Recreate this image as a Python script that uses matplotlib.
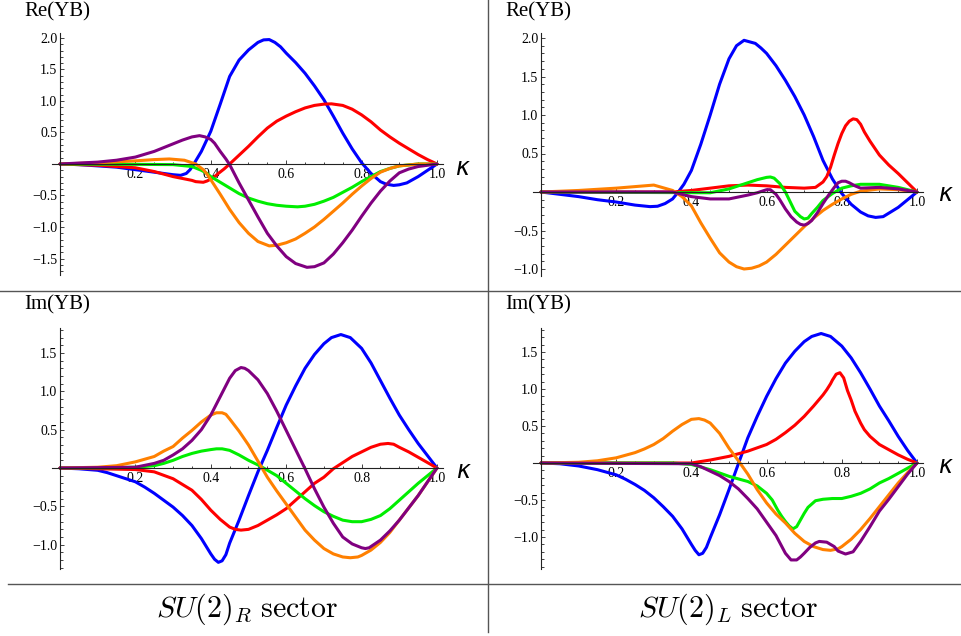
import numpy as np
import matplotlib
matplotlib.use("Agg")
import matplotlib.pyplot as plt
from matplotlib.lines import Line2D

plt.rcParams['font.family'] = ['Liberation Serif', 'DejaVu Serif']
plt.rcParams['mathtext.fontset'] = 'cm'

W, H = 962, 636

# ---- data: (kappa, value) pairs ----
# Re(YB), SU(2)_R sector
reR_blue = [(0, 0), (0.05, -0.01), (0.1, -0.03), (0.15, -0.05), (0.2, -0.09), (0.25, -0.13),
            (0.3, -0.17), (0.32, -0.18), (0.335, -0.15), (0.345, -0.09), (0.355, 0.0), (0.375, 0.2),
            (0.4, 0.52), (0.425, 0.95), (0.45, 1.39), (0.475, 1.65), (0.5, 1.81), (0.525, 1.93),
            (0.54, 1.97), (0.555, 1.975), (0.57, 1.93), (0.585, 1.86), (0.6, 1.76), (0.625, 1.61),
            (0.65, 1.44), (0.675, 1.24), (0.7, 1.02), (0.725, 0.76), (0.75, 0.49), (0.775, 0.24),
            (0.8, 0.02), (0.825, -0.15), (0.85, -0.28), (0.865, -0.32), (0.885, -0.34), (0.9, -0.33),
            (0.92, -0.3), (0.95, -0.2), (0.975, -0.1), (1.0, 0)]
reR_red = [(0, 0), (0.1, -0.02), (0.2, -0.06), (0.25, -0.12), (0.3, -0.2), (0.325, -0.23),
           (0.35, -0.26), (0.36, -0.28), (0.38, -0.29), (0.39, -0.27), (0.4, -0.24), (0.41, -0.2),
           (0.42, -0.15), (0.435, -0.08), (0.45, 0.0), (0.475, 0.14), (0.5, 0.28), (0.525, 0.43),
           (0.55, 0.57), (0.575, 0.68), (0.6, 0.76), (0.625, 0.83), (0.65, 0.89), (0.675, 0.93),
           (0.7, 0.95), (0.72, 0.955), (0.75, 0.93), (0.775, 0.87), (0.8, 0.78), (0.825, 0.67),
           (0.85, 0.54), (0.875, 0.43), (0.9, 0.33), (0.925, 0.24), (0.95, 0.15), (0.975, 0.07), (1.0, 0)]
reR_green = [(0, 0), (0.2, -0.005), (0.3, -0.01), (0.35, -0.04), (0.375, -0.1), (0.39, -0.15),
             (0.4, -0.2), (0.425, -0.29), (0.45, -0.38), (0.475, -0.47), (0.5, -0.54), (0.525, -0.59),
             (0.55, -0.63), (0.575, -0.655), (0.6, -0.67), (0.63, -0.68), (0.65, -0.67), (0.675, -0.64),
             (0.7, -0.59), (0.725, -0.53), (0.75, -0.45), (0.775, -0.37), (0.8, -0.28), (0.825, -0.2),
             (0.85, -0.12), (0.875, -0.07), (0.9, -0.03), (0.95, 0.0), (1.0, 0)]
reR_orange = [(0, 0), (0.1, 0.02), (0.15, 0.035), (0.2, 0.05), (0.25, 0.07), (0.29, 0.08),
              (0.33, 0.06), (0.36, 0.0), (0.38, -0.09), (0.39, -0.16), (0.4, -0.25), (0.425, -0.48),
              (0.45, -0.72), (0.475, -0.93), (0.5, -1.1), (0.525, -1.23), (0.555, -1.3), (0.575, -1.29),
              (0.6, -1.25), (0.625, -1.19), (0.65, -1.1), (0.675, -1.0), (0.7, -0.88), (0.725, -0.75),
              (0.75, -0.62), (0.775, -0.48), (0.8, -0.35), (0.825, -0.23), (0.85, -0.13), (0.875, -0.07),
              (0.9, -0.03), (0.95, 0.0), (1.0, 0)]
reR_purple = [(0, 0), (0.1, 0.03), (0.15, 0.06), (0.2, 0.11), (0.25, 0.2), (0.275, 0.26),
              (0.3, 0.32), (0.325, 0.38), (0.35, 0.43), (0.37, 0.45), (0.385, 0.43), (0.4, 0.39),
              (0.41, 0.33), (0.425, 0.2), (0.44, 0.08), (0.45, -0.01), (0.475, -0.3), (0.5, -0.57),
              (0.525, -0.84), (0.55, -1.1), (0.575, -1.3), (0.6, -1.47), (0.625, -1.58), (0.655, -1.64),
              (0.675, -1.63), (0.7, -1.57), (0.725, -1.43), (0.75, -1.25), (0.775, -1.05), (0.8, -0.83),
              (0.825, -0.62), (0.85, -0.43), (0.875, -0.27), (0.9, -0.14), (0.925, -0.08), (0.95, -0.04),
              (1.0, 0)]

# Re(YB), SU(2)_L sector
reL_blue = [(0, 0), (0.05, -0.03), (0.1, -0.06), (0.15, -0.1), (0.2, -0.13), (0.25, -0.17),
            (0.29, -0.19), (0.31, -0.185), (0.33, -0.15), (0.35, -0.09), (0.365, 0.0), (0.38, 0.1),
            (0.4, 0.28), (0.425, 0.62), (0.45, 1.0), (0.475, 1.4), (0.5, 1.73), (0.52, 1.9),
            (0.54, 1.97), (0.57, 1.93), (0.585, 1.87), (0.6, 1.8), (0.625, 1.64), (0.65, 1.45),
            (0.675, 1.24), (0.7, 1.0), (0.725, 0.72), (0.75, 0.41), (0.775, 0.17), (0.8, -0.02),
            (0.825, -0.16), (0.85, -0.26), (0.87, -0.31), (0.89, -0.33), (0.91, -0.32), (0.95, -0.2),
            (0.975, -0.1), (1.0, 0)]
reL_red = [(0, 0), (0.35, 0.0), (0.4, 0.02), (0.45, 0.05), (0.5, 0.08), (0.55, 0.09), (0.6, 0.08),
           (0.65, 0.06), (0.7, 0.05), (0.73, 0.06), (0.75, 0.13), (0.76, 0.2), (0.77, 0.32),
           (0.78, 0.48), (0.79, 0.63), (0.8, 0.76), (0.81, 0.86), (0.82, 0.92), (0.83, 0.95),
           (0.84, 0.94), (0.85, 0.88), (0.86, 0.78), (0.875, 0.66), (0.9, 0.48), (0.925, 0.35),
           (0.95, 0.24), (0.975, 0.12), (1.0, 0)]
reL_green = [(0, 0), (0.45, -0.01), (0.5, 0.04), (0.55, 0.12), (0.575, 0.16), (0.6, 0.19),
             (0.61, 0.195), (0.62, 0.18), (0.635, 0.11), (0.65, 0.0), (0.66, -0.1), (0.675, -0.25),
             (0.69, -0.32), (0.7, -0.35), (0.71, -0.34), (0.72, -0.28), (0.735, -0.2), (0.75, -0.11),
             (0.775, -0.02), (0.8, 0.05), (0.825, 0.08), (0.85, 0.1), (0.875, 0.1), (0.9, 0.1),
             (0.95, 0.06), (1.0, 0)]
reL_orange = [(0, 0), (0.1, 0.02), (0.2, 0.05), (0.3, 0.09), (0.35, 0.02), (0.375, -0.06),
              (0.4, -0.18), (0.425, -0.4), (0.45, -0.6), (0.475, -0.79), (0.5, -0.91), (0.52, -0.97),
              (0.54, -1.0), (0.56, -0.99), (0.58, -0.96), (0.6, -0.91), (0.625, -0.81), (0.65, -0.69),
              (0.675, -0.57), (0.7, -0.45), (0.725, -0.34), (0.75, -0.24), (0.775, -0.16), (0.8, -0.09),
              (0.825, -0.03), (0.85, 0.01), (0.9, 0.04), (0.95, 0.03), (1.0, 0)]
reL_purple = [(0, 0), (0.35, 0.0), (0.4, -0.06), (0.45, -0.09), (0.5, -0.09), (0.55, -0.04),
              (0.575, -0.01), (0.6, 0.03), (0.61, 0.03), (0.625, -0.03), (0.635, -0.1), (0.65, -0.22),
              (0.665, -0.32), (0.68, -0.39), (0.69, -0.42), (0.7, -0.43), (0.71, -0.41), (0.72, -0.37),
              (0.735, -0.27), (0.75, -0.15), (0.765, -0.04), (0.78, 0.06), (0.79, 0.12), (0.8, 0.14),
              (0.81, 0.14), (0.82, 0.12), (0.835, 0.08), (0.85, 0.05), (0.9, 0.06), (0.95, 0.04), (1.0, 0)]

# Im(YB), SU(2)_R sector
imR_blue = [(0, 0), (0.05, -0.01), (0.1, -0.03), (0.125, -0.06), (0.15, -0.1), (0.175, -0.14),
            (0.2, -0.18), (0.225, -0.25), (0.25, -0.33), (0.275, -0.42), (0.3, -0.51), (0.325, -0.62),
            (0.35, -0.75), (0.375, -0.92), (0.4, -1.12), (0.41, -1.19), (0.42, -1.23), (0.43, -1.21),
            (0.44, -1.13), (0.45, -0.98), (0.475, -0.68), (0.5, -0.36), (0.525, -0.05), (0.55, 0.23),
            (0.575, 0.53), (0.6, 0.82), (0.625, 1.07), (0.65, 1.3), (0.675, 1.48), (0.7, 1.62),
            (0.72, 1.7), (0.745, 1.74), (0.77, 1.7), (0.8, 1.56), (0.825, 1.37), (0.85, 1.14),
            (0.875, 0.91), (0.9, 0.69), (0.925, 0.5), (0.95, 0.32), (0.975, 0.16), (1.0, 0)]
imR_red = [(0, 0), (0.2, -0.02), (0.25, -0.05), (0.3, -0.14), (0.35, -0.29), (0.375, -0.41),
           (0.4, -0.55), (0.425, -0.67), (0.45, -0.77), (0.465, -0.8), (0.48, -0.81), (0.5, -0.8),
           (0.525, -0.75), (0.55, -0.68), (0.575, -0.61), (0.6, -0.53), (0.625, -0.42), (0.65, -0.31),
           (0.675, -0.2), (0.7, -0.12), (0.725, -0.01), (0.75, 0.07), (0.775, 0.15), (0.8, 0.21),
           (0.825, 0.27), (0.85, 0.31), (0.87, 0.32), (0.885, 0.31), (0.9, 0.27), (0.925, 0.21),
           (0.95, 0.14), (0.975, 0.07), (1.0, 0)]
imR_green = [(0, 0), (0.15, 0.005), (0.2, 0.01), (0.25, 0.03), (0.275, 0.06), (0.3, 0.1),
             (0.325, 0.15), (0.35, 0.19), (0.375, 0.22), (0.4, 0.24), (0.415, 0.25), (0.43, 0.25),
             (0.45, 0.23), (0.475, 0.17), (0.5, 0.1), (0.525, 0.04), (0.54, 0.0), (0.575, -0.1),
             (0.6, -0.2), (0.625, -0.3), (0.65, -0.4), (0.675, -0.49), (0.7, -0.57), (0.725, -0.63),
             (0.75, -0.68), (0.775, -0.7), (0.8, -0.7), (0.825, -0.67), (0.85, -0.62), (0.875, -0.53),
             (0.9, -0.42), (0.925, -0.31), (0.95, -0.2), (0.975, -0.1), (1.0, 0)]
imR_orange = [(0, 0), (0.1, 0.01), (0.15, 0.03), (0.2, 0.08), (0.25, 0.15), (0.275, 0.22),
              (0.3, 0.28), (0.325, 0.39), (0.35, 0.49), (0.375, 0.6), (0.4, 0.69), (0.415, 0.72),
              (0.43, 0.72), (0.44, 0.7), (0.45, 0.64), (0.475, 0.48), (0.5, 0.3), (0.525, 0.09),
              (0.55, -0.12), (0.575, -0.3), (0.6, -0.47), (0.625, -0.64), (0.65, -0.81), (0.675, -0.94),
              (0.7, -1.05), (0.725, -1.12), (0.75, -1.16), (0.77, -1.17), (0.79, -1.16), (0.8, -1.14),
              (0.825, -1.07), (0.85, -0.97), (0.875, -0.84), (0.9, -0.68), (0.925, -0.52), (0.95, -0.36),
              (0.975, -0.18), (1.0, 0)]
imR_purple = [(0, 0), (0.2, 0.01), (0.25, 0.06), (0.275, 0.1), (0.3, 0.17), (0.325, 0.25),
              (0.35, 0.36), (0.375, 0.5), (0.4, 0.69), (0.425, 0.93), (0.45, 1.17), (0.465, 1.27),
              (0.48, 1.31), (0.49, 1.3), (0.5, 1.27), (0.525, 1.15), (0.55, 0.97), (0.575, 0.74),
              (0.6, 0.49), (0.625, 0.24), (0.65, -0.01), (0.675, -0.27), (0.7, -0.51), (0.725, -0.72),
              (0.75, -0.9), (0.775, -0.99), (0.8, -1.04), (0.81, -1.05), (0.82, -1.04), (0.85, -0.94),
              (0.875, -0.82), (0.9, -0.68), (0.925, -0.52), (0.95, -0.36), (0.975, -0.18), (1.0, 0)]

# Im(YB), SU(2)_L sector
imL_blue = [(0, 0), (0.05, -0.01), (0.1, -0.04), (0.15, -0.09), (0.2, -0.16), (0.225, -0.22),
            (0.25, -0.29), (0.275, -0.37), (0.3, -0.47), (0.325, -0.59), (0.35, -0.72), (0.375, -0.89),
            (0.4, -1.1), (0.41, -1.18), (0.42, -1.24), (0.43, -1.22), (0.44, -1.14), (0.45, -1.01),
            (0.475, -0.7), (0.5, -0.36), (0.525, -0.01), (0.55, 0.34), (0.575, 0.63), (0.6, 0.9),
            (0.625, 1.14), (0.65, 1.35), (0.675, 1.51), (0.7, 1.64), (0.72, 1.71), (0.745, 1.75),
            (0.77, 1.71), (0.8, 1.58), (0.825, 1.42), (0.85, 1.22), (0.875, 1.0), (0.9, 0.77),
            (0.925, 0.57), (0.95, 0.36), (0.975, 0.17), (1.0, 0)]
imL_red = [(0, 0), (0.4, 0.0), (0.45, 0.04), (0.5, 0.09), (0.55, 0.16), (0.6, 0.25), (0.625, 0.32),
           (0.65, 0.41), (0.675, 0.51), (0.7, 0.63), (0.725, 0.77), (0.75, 0.92), (0.76, 0.99),
           (0.77, 1.07), (0.775, 1.12), (0.785, 1.2), (0.795, 1.22), (0.805, 1.15), (0.815, 0.98),
           (0.825, 0.85), (0.835, 0.7), (0.85, 0.54), (0.86, 0.45), (0.875, 0.36), (0.9, 0.25),
           (0.925, 0.18), (0.95, 0.11), (0.975, 0.05), (1.0, 0)]
imL_green = [(0, 0), (0.35, 0.0), (0.4, -0.02), (0.45, -0.09), (0.5, -0.18), (0.55, -0.25),
             (0.575, -0.31), (0.6, -0.41), (0.615, -0.5), (0.63, -0.64), (0.64, -0.72), (0.65, -0.79),
             (0.66, -0.85), (0.67, -0.89), (0.68, -0.86), (0.69, -0.77), (0.7, -0.68), (0.71, -0.6),
             (0.73, -0.51), (0.75, -0.49), (0.775, -0.48), (0.8, -0.48), (0.825, -0.45), (0.85, -0.41),
             (0.875, -0.35), (0.9, -0.27), (0.925, -0.21), (0.95, -0.14), (0.975, -0.07), (1.0, 0)]
imL_orange = [(0, 0), (0.1, 0.01), (0.15, 0.03), (0.2, 0.07), (0.25, 0.14), (0.275, 0.19),
              (0.3, 0.25), (0.325, 0.33), (0.35, 0.43), (0.375, 0.52), (0.4, 0.59), (0.42, 0.6),
              (0.435, 0.58), (0.45, 0.54), (0.475, 0.4), (0.5, 0.2), (0.525, 0.03), (0.55, -0.15),
              (0.575, -0.36), (0.6, -0.54), (0.625, -0.69), (0.65, -0.81), (0.675, -0.95), (0.7, -1.06),
              (0.725, -1.13), (0.75, -1.17), (0.77, -1.18), (0.79, -1.16), (0.8, -1.13), (0.825, -1.03),
              (0.85, -0.9), (0.875, -0.75), (0.9, -0.59), (0.925, -0.43), (0.95, -0.27), (0.975, -0.13),
              (1.0, 0)]
imL_purple = [(0, 0), (0.4, -0.01), (0.425, -0.05), (0.45, -0.11), (0.475, -0.17), (0.5, -0.25),
              (0.525, -0.35), (0.55, -0.48), (0.575, -0.62), (0.6, -0.8), (0.625, -0.98), (0.65, -1.22),
              (0.665, -1.31), (0.68, -1.31), (0.69, -1.27), (0.7, -1.22), (0.715, -1.14), (0.73, -1.08),
              (0.74, -1.06), (0.76, -1.07), (0.78, -1.13), (0.79, -1.19), (0.81, -1.23), (0.83, -1.2),
              (0.85, -1.06), (0.875, -0.86), (0.9, -0.65), (0.925, -0.49), (0.95, -0.32), (0.975, -0.15),
              (1.0, 0)]

xticks = [0.2, 0.4, 0.6, 0.8, 1.0]
yticks_reR = [-1.5, -1.0, -0.5, 0.5, 1.0, 1.5, 2.0]
yticks_reL = [-1.0, -0.5, 0.5, 1.0, 1.5, 2.0]
yticks_im = [-1.0, -0.5, 0.5, 1.0, 1.5]

colors = ['#0000ff', '#ff0000', '#00ee00', '#ff8000', '#800080']


def fx(px):
    return px / W


def fy(py):
    return 1 - py / H


def panel(fig, ox, oy, sx, sy, ylim, yticks, curves):
    x0, x1 = -0.02, 1.016
    left = ox + sx * x0
    right = ox + sx * x1
    top = oy - sy * ylim[1]
    bottom = oy - sy * ylim[0]
    ax = fig.add_axes([fx(left), fy(bottom), (right - left) / W, (bottom - top) / H])
    ax.set_xlim(x0, x1)
    ax.set_ylim(*ylim)
    ax.patch.set_alpha(0)
    for c, pts in zip(colors, curves):
        xs, ys = zip(*sorted(pts))
        ax.plot(xs, ys, color=c, lw=2.2, solid_joinstyle='round', solid_capstyle='round')
    ax.spines['left'].set_position(('data', 0))
    ax.spines['bottom'].set_position(('data', 0))
    ax.spines['top'].set_visible(False)
    ax.spines['right'].set_visible(False)
    for s in ('left', 'bottom'):
        ax.spines[s].set_linewidth(0.8)
        ax.spines[s].set_color('#222222')
    ax.set_xticks(xticks)
    ax.set_xticklabels([f"{v:.1f}" for v in xticks])
    xminor = [v for v in np.arange(0.05, 1.0, 0.05) if abs(v / 0.2 - round(v / 0.2)) > 1e-6]
    ax.set_xticks(xminor, minor=True)
    ax.set_yticks(yticks)
    ax.set_yticklabels([f"{v:.1f}".replace('-', '\u2212') for v in yticks])
    ymin = np.ceil(ylim[0] * 10) / 10
    yminor = [v for v in np.arange(ymin, ylim[1], 0.1)
              if abs(v * 2 - round(v * 2)) > 1e-6]
    ax.set_yticks(yminor, minor=True)
    ax.tick_params(which='both', direction='in', width=0.6, color='#222222', labelsize=10)
    ax.tick_params(which='major', length=3.2)
    ax.tick_params(which='minor', length=1.8)
    ax.tick_params(axis='x', pad=3)
    ax.tick_params(axis='y', pad=2)
    return ax


fig = plt.figure(figsize=(W / 100, H / 100), dpi=100)

panel(fig, 60, 164, 377, 63, (-1.76, 2.08), yticks_reR,
      [reR_blue, reR_red, reR_green, reR_orange, reR_purple])
panel(fig, 541, 192, 376, 77, (-1.09, 2.07), yticks_reL,
      [reL_blue, reL_red, reL_green, reL_orange, reL_purple])
panel(fig, 60, 468, 377, 76.7, (-1.32, 1.83), yticks_im,
      [imR_blue, imR_red, imR_green, imR_orange, imR_purple])
panel(fig, 541, 463, 376, 74, (-1.43, 1.82), yticks_im,
      [imL_blue, imL_red, imL_green, imL_orange, imL_purple])

# axis titles
for (px, py, t) in [(24, 12, 'Re(YB)'), (505, 12, 'Re(YB)'),
                    (24, 305, 'Im(YB)'), (505, 305, 'Im(YB)')]:
    fig.text(fx(px), fy(py), t, fontsize=15, ha='left', va='center')

for (px, py) in [(455, 168), (938, 194), (456, 471), (938, 466)]:
    fig.text(fx(px), fy(py), '\u03ba', fontsize=17, ha='left', va='center',
             family='DejaVu Sans', style='italic')

# table rules
rule = dict(color='#555555', lw=1.0)
fig.add_artist(Line2D([fx(488), fx(488)], [fy(0), fy(632)], **rule))
fig.add_artist(Line2D([fx(0), fx(962)], [fy(291), fy(291)], **rule))
fig.add_artist(Line2D([fx(8), fx(962)], [fy(584), fy(584)], **rule))

fig.text(fx(247), fy(609), r'$SU(2)_R\ \mathrm{sector}$', fontsize=21.5, ha='center', va='center')
fig.text(fx(728), fy(609), r'$SU(2)_L\ \mathrm{sector}$', fontsize=21.5, ha='center', va='center')

fig.savefig('out.png', dpi=100)
